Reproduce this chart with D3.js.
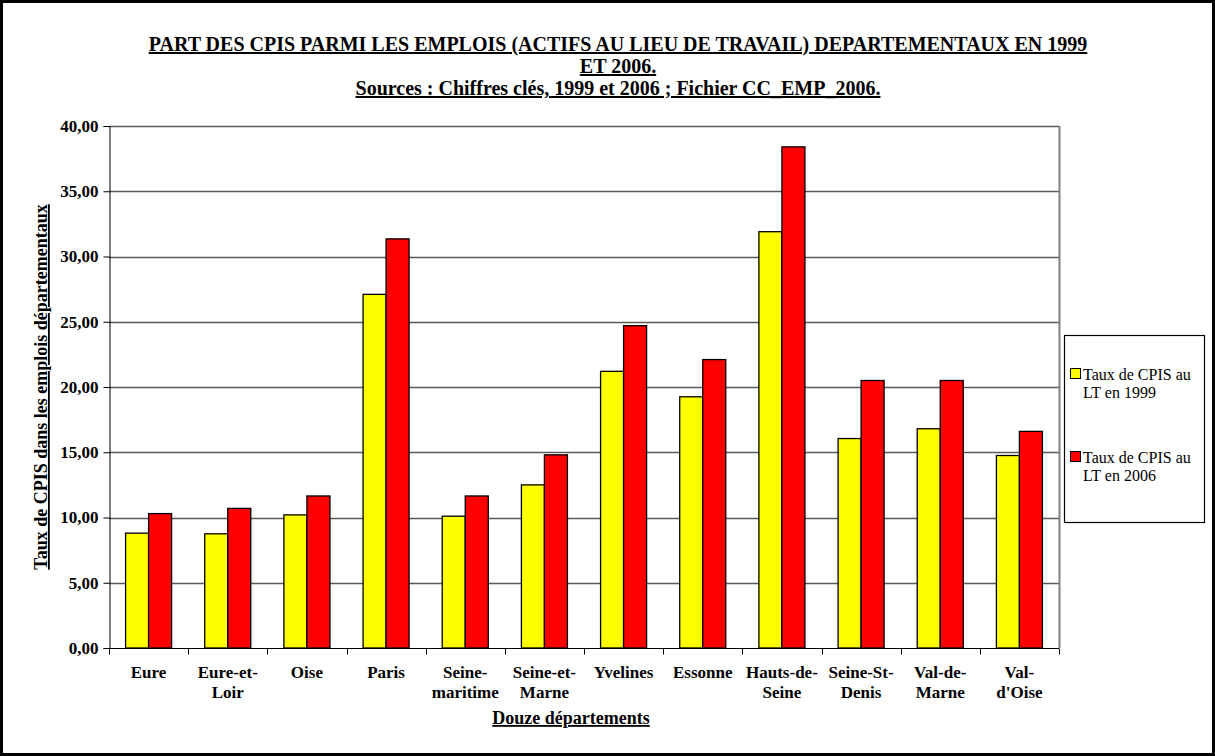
<!DOCTYPE html>
<html>
<head>
<meta charset="utf-8">
<script src="https://cdn.jsdelivr.net/npm/d3@7"></script>
<style>
  body { margin: 0; background: #fff; }
  svg text { font-family: "Liberation Serif", "Times New Roman", serif; }
</style>
</head>
<body>
<svg id="chart" width="1215" height="756"></svg>
<script>
// departments (label lines)
const departements = [
  ["Eure"], ["Eure-et-", "Loir"], ["Oise"], ["Paris"], ["Seine-", "maritime"],
  ["Seine-et-", "Marne"], ["Yvelines"], ["Essonne"], ["Hauts-de-", "Seine"],
  ["Seine-St-", "Denis"], ["Val-de-", "Marne"], ["Val-", "d'Oise"]
];
const taux1999 = [8.8, 8.75, 10.2, 27.1, 10.1, 12.5, 21.2, 19.25, 31.9, 16.05, 16.8, 14.75];
const taux2006 = [10.3, 10.7, 11.65, 31.35, 11.65, 14.8, 24.7, 22.1, 38.4, 20.5, 20.5, 16.6];
const series = [
  { name: ["Taux de CPIS au", "LT en 1999"], values: taux1999, color: "#ffff00" },
  { name: ["Taux de CPIS au", "LT en 2006"], values: taux2006, color: "#ff0000" }
];
const yTicks = [0, 5, 10, 15, 20, 25, 30, 35, 40];

const svg = d3.select("#chart");
const plot = { left: 109, right: 1059, top: 126, bottom: 648 };

// outer frame
svg.append("rect")
  .attr("x", 1.5).attr("y", 1.5).attr("width", 1212).attr("height", 753)
  .attr("fill", "#fff").attr("stroke", "#000").attr("stroke-width", 3);

const x = d3.scaleBand()
  .domain(d3.range(departements.length))
  .range([plot.left, plot.right]);
const xInner = d3.scaleBand()
  .domain([0, 1])
  .range([0, x.bandwidth()])
  .paddingOuter(0.72);
const y = d3.scaleLinear().domain([0, 40]).range([plot.bottom, plot.top]);

// gridlines
svg.append("g")
  .selectAll("line")
  .data(yTicks.filter(d => d > 0))
  .join("line")
  .attr("x1", plot.left).attr("x2", plot.right)
  .attr("y1", d => Math.round(y(d)) + 0.5).attr("y2", d => Math.round(y(d)) + 0.5)
  .attr("stroke", "#5a5a5a").attr("stroke-width", 1.4);

// right border
svg.append("line")
  .attr("x1", plot.right + 0.5).attr("x2", plot.right + 0.5)
  .attr("y1", plot.top).attr("y2", plot.bottom)
  .attr("stroke", "#808080").attr("stroke-width", 2);

// bars
const groups = svg.append("g")
  .selectAll("g")
  .data(departements)
  .join("g")
  .attr("transform", (d, i) => `translate(${x(i)},0)`);

groups.selectAll("rect")
  .data((d, i) => series.map((s, k) => ({ k, v: s.values[i], color: s.color })))
  .join("rect")
  .attr("x", d => xInner(d.k))
  .attr("width", xInner.bandwidth())
  .attr("y", d => y(d.v))
  .attr("height", d => y(0) - y(d.v))
  .attr("fill", d => d.color)
  .attr("stroke", "#000")
  .attr("stroke-width", 1.3);

// y axis
const yAxis = svg.append("g")
  .attr("transform", `translate(${plot.left + 0.5},0)`)
  .call(d3.axisLeft(y).tickValues(yTicks).tickSize(6).tickPadding(5)
    .tickFormat(d => d3.format(".2f")(d).replace(".", ",")));
yAxis.select(".domain").attr("stroke", "#000");
yAxis.selectAll("text")
  .attr("font-size", 17).attr("font-weight", "bold").attr("fill", "#000")
  .style("font-family", "'Liberation Serif', serif");

// x axis
const xAxis = svg.append("g")
  .attr("transform", `translate(0,${plot.bottom + 0.5})`);
xAxis.append("line")
  .attr("x1", plot.left).attr("x2", plot.right)
  .attr("stroke", "#000").attr("stroke-width", 1);
xAxis.selectAll(".tk")
  .data(d3.range(departements.length + 1))
  .join("line")
  .attr("class", "tk")
  .attr("x1", i => Math.round(plot.left + i * x.step()) + 0.5)
  .attr("x2", i => Math.round(plot.left + i * x.step()) + 0.5)
  .attr("y1", 0).attr("y2", 6)
  .attr("stroke", "#000");

const labels = svg.append("g")
  .selectAll("text")
  .data(departements)
  .join("text")
  .attr("x", (d, i) => x(i) + x.bandwidth() / 2)
  .attr("y", 678)
  .attr("text-anchor", "middle")
  .attr("font-size", 17).attr("font-weight", "bold");
labels.selectAll("tspan")
  .data(d => d)
  .join("tspan")
  .attr("x", function () { return d3.select(this.parentNode).attr("x"); })
  .attr("dy", (d, j) => j === 0 ? 0 : 20)
  .text(d => d);

// axis titles
svg.append("text")
  .attr("x", 571).attr("y", 724)
  .attr("text-anchor", "middle")
  .attr("font-size", 18).attr("font-weight", "bold")
  .attr("text-decoration", "underline")
  .text("Douze départements");

svg.append("text")
  .attr("transform", `translate(47,${(plot.top + plot.bottom) / 2}) rotate(-90)`)
  .attr("text-anchor", "middle")
  .attr("font-size", 18).attr("font-weight", "bold")
  .attr("text-decoration", "underline")
  .text("Taux de CPIS dans les emplois départementaux");

// title
const titleLines = [
  "PART DES CPIS PARMI LES EMPLOIS (ACTIFS AU LIEU DE TRAVAIL) DEPARTEMENTAUX EN 1999",
  "ET 2006.",
  "Sources : Chiffres clés, 1999 et 2006 ; Fichier CC_EMP_2006."
];
svg.append("g")
  .selectAll("text")
  .data(titleLines)
  .join("text")
  .attr("x", 618)
  .attr("y", (d, i) => 51 + i * 22)
  .attr("text-anchor", "middle")
  .attr("font-size", 20).attr("font-weight", "bold")
  .attr("text-decoration", "underline")
  .text(d => d);

// legend
const legend = svg.append("g");
legend.append("rect")
  .attr("x", 1064.5).attr("y", 335.5).attr("width", 140).attr("height", 187)
  .attr("fill", "#fff").attr("stroke", "#000").attr("stroke-width", 1.2);
const items = legend.selectAll("g")
  .data(series)
  .join("g")
  .attr("transform", (d, i) => `translate(1070,${375 + i * 83})`);
items.append("rect")
  .attr("x", 0.5).attr("y", -6.5).attr("width", 10).attr("height", 10)
  .attr("fill", d => d.color).attr("stroke", "#000");
items.append("text")
  .attr("font-size", 16)
  .selectAll("tspan")
  .data(d => d.name)
  .join("tspan")
  .attr("x", 13)
  .attr("y", (d, j) => 5 + j * 18)
  .text(d => d);
</script>
</body>
</html>
